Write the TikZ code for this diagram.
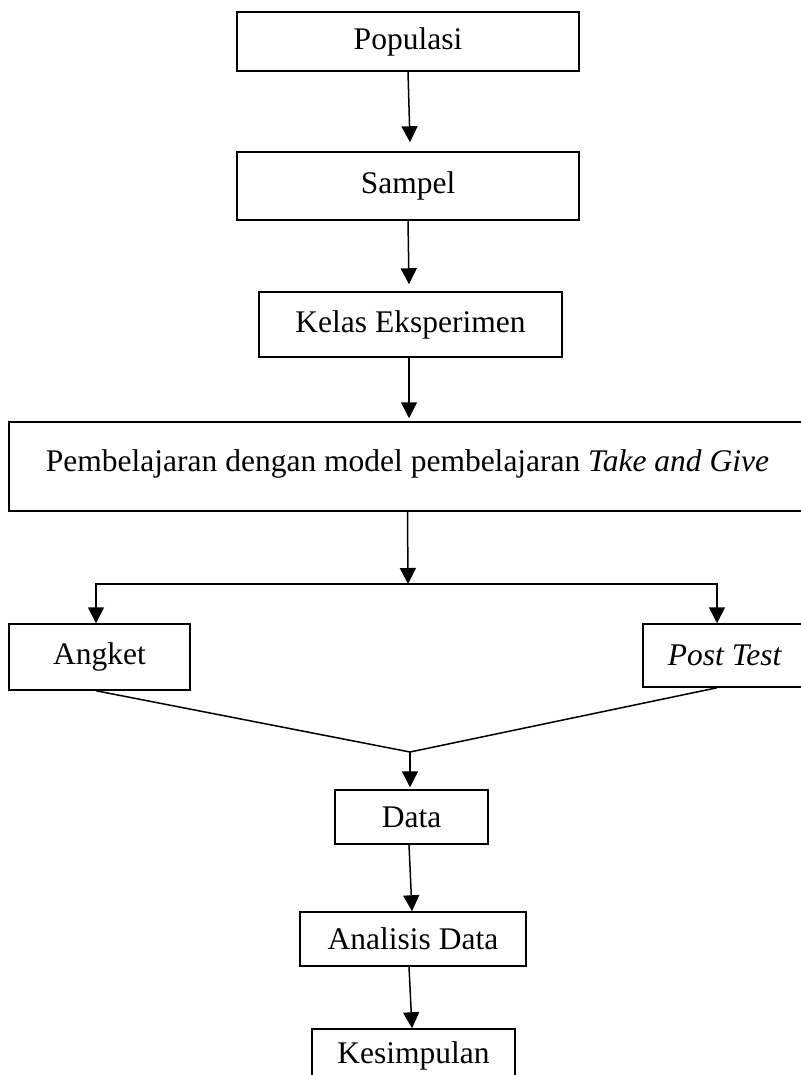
\documentclass[tikz,border=0pt]{standalone}
\usepackage{fontspec}
\setmainfont{Liberation Serif}
\usetikzlibrary{arrows.meta}

\begin{document}
\begin{tikzpicture}[x=1pt,y=-1pt,
  box/.style={draw,line width=1.5pt,inner sep=0pt,font=\fontsize{31.5}{38}\selectfont},
  arr/.style={line width=1.5pt,-{Triangle[length=16pt,width=16pt]}},
  ln/.style={line width=1.5pt}]
\useasboundingbox (0,0) rectangle (800,1075);
\node [box,minimum width=342,minimum height=59] (pop) at (408,41.5) {Populasi};
\node [box,minimum width=342,minimum height=68] (samp) at (408,186) {Sampel};
\node [box,minimum width=303,minimum height=65] (kelas) at (410.5,324.5) {Kelas Eksperimen};
\node [box,minimum width=797,minimum height=89] (pemb) at (407.5,466.5)
  {\raisebox{12pt}{Pembelajaran dengan model pembelajaran \textit{Take and Give}}};
\node [box,minimum width=181,minimum height=66] (angket) at (99.5,657) {\raisebox{-3pt}{Angket}};
\node [box,minimum width=164,minimum height=63] (post) at (725,655.5) {\textit{Post Test}};
\node [box,minimum width=153,minimum height=54] (data) at (411.5,817) {Data};
\node [box,minimum width=226,minimum height=54] (anal) at (413,939) {Analisis Data};
\node [box,minimum width=203,minimum height=60] (kes) at (413.5,1059) {\raisebox{12pt}{Kesimpulan}};
\coordinate (split) at (408,584);
\coordinate (merge) at (410,752);
\draw [arr] (pop.south) -- ([xshift=2pt,yshift=9pt]samp.north);
\draw [arr] (samp.south) -- ([xshift=-1.5pt,yshift=7pt]kelas.north);
\draw [arr] ([xshift=-1.5pt]kelas.south) -- ([xshift=1.5pt,yshift=3pt]pemb.north);
\draw [arr] (pemb.south) -- (split);
\draw [arr] (split) -| ([xshift=-3.5pt]angket.north);
\draw [arr] (split) -| ([xshift=-8pt]post.north);
\draw [ln] ([xshift=-3.5pt]angket.south) -- (merge) -- ([xshift=-8pt]post.south);
\draw [arr] (merge) -- ([xshift=-1.5pt,yshift=2pt]data.north);
\draw [arr] ([xshift=-2.5pt]data.south) -- ([xshift=-1pt]anal.north);
\draw [arr] ([xshift=-4pt]anal.south) -- ([xshift=-1.5pt]kes.north);
\end{tikzpicture}
\end{document}
